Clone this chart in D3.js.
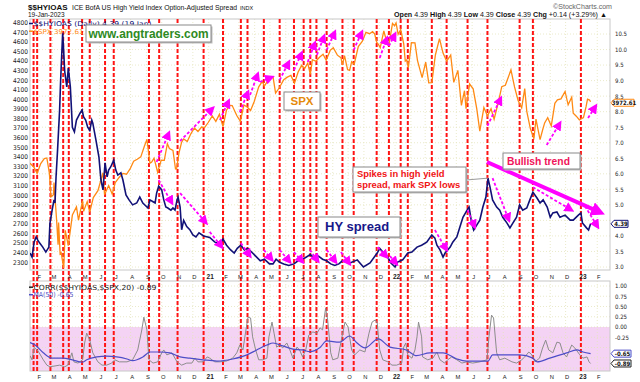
<!DOCTYPE html>
<html><head><meta charset="utf-8">
<script src="https://cdn.jsdelivr.net/npm/d3@7"></script>
<style>body{margin:0;background:#fff}svg{display:block}</style>
</head><body><svg id="c" width="640" height="382"></svg>
<script>
// ---------------- DATA ----------------
const spx = [
["2020-01-17",3330],["2020-01-24",3295],["2020-01-31",3225],["2020-02-07",3328],["2020-02-14",3380],["2020-02-19",3386],["2020-02-24",3225],["2020-02-27",2979],["2020-03-03",3003],["2020-03-04",3130],["2020-03-09",2747],["2020-03-12",2481],["2020-03-13",2711],["2020-03-16",2386],["2020-03-18",2398],["2020-03-23",2237],["2020-03-26",2630],["2020-04-01",2471],["2020-04-09",2790],["2020-04-17",2875],["2020-04-21",2737],["2020-04-29",2940],["2020-05-01",2830],["2020-05-08",2930],["2020-05-13",2820],["2020-05-20",2972],["2020-05-29",3044],["2020-06-08",3232],["2020-06-11",3002],["2020-06-19",3098],["2020-06-26",3009],["2020-07-02",3130],["2020-07-10",3185],["2020-07-17",3225],["2020-07-24",3216],["2020-07-31",3271],["2020-08-07",3351],["2020-08-14",3373],["2020-08-21",3397],["2020-08-28",3508],["2020-09-02",3580],["2020-09-08",3332],["2020-09-11",3341],["2020-09-16",3385],["2020-09-23",3237],["2020-09-30",3363],["2020-10-06",3361],["2020-10-12",3535],["2020-10-16",3484],["2020-10-23",3465],["2020-10-28",3271],["2020-10-30",3270],["2020-11-04",3443],["2020-11-09",3551],["2020-11-13",3585],["2020-11-20",3558],["2020-11-27",3638],["2020-12-04",3699],["2020-12-11",3663],["2020-12-18",3709],["2020-12-24",3703],["2020-12-31",3756],
["2021-01-08",3825],["2021-01-15",3768],["2021-01-22",3841],["2021-01-29",3714],["2021-02-05",3887],["2021-02-12",3934],["2021-02-16",3933],["2021-02-25",3829],["2021-03-04",3768],["2021-03-11",3939],["2021-03-18",3915],["2021-03-24",3881],["2021-03-31",3973],["2021-04-09",4129],["2021-04-16",4185],["2021-04-20",4135],["2021-04-29",4211],["2021-05-07",4233],["2021-05-12",4063],["2021-05-19",4116],["2021-05-28",4204],["2021-06-04",4230],["2021-06-11",4247],["2021-06-18",4166],["2021-06-25",4281],["2021-07-02",4352],["2021-07-08",4321],["2021-07-14",4375],["2021-07-19",4258],["2021-07-23",4412],["2021-07-30",4395],["2021-08-06",4437],["2021-08-13",4468],["2021-08-19",4406],["2021-08-27",4509],["2021-09-02",4537],["2021-09-10",4459],["2021-09-17",4433],["2021-09-20",4358],["2021-09-24",4455],["2021-09-30",4308],["2021-10-04",4300],["2021-10-08",4391],["2021-10-13",4364],["2021-10-21",4549],["2021-10-29",4605],["2021-11-05",4697],["2021-11-12",4683],["2021-11-18",4704],["2021-11-22",4682],["2021-11-26",4595],["2021-11-30",4567],["2021-12-03",4538],["2021-12-10",4712],["2021-12-14",4634],["2021-12-20",4568],["2021-12-27",4791],["2021-12-31",4766],
["2022-01-03",4796],["2022-01-07",4677],["2022-01-12",4726],["2022-01-18",4577],["2022-01-21",4398],["2022-01-24",4410],["2022-01-27",4326],["2022-02-02",4589],["2022-02-09",4587],["2022-02-14",4401],["2022-02-23",4225],["2022-03-02",4387],["2022-03-08",4170],["2022-03-14",4173],["2022-03-21",4461],["2022-03-29",4632],["2022-04-05",4481],["2022-04-12",4397],["2022-04-20",4459],["2022-04-26",4175],["2022-05-04",4300],["2022-05-11",3935],["2022-05-17",4088],["2022-05-20",3901],["2022-05-27",4158],["2022-06-03",4108],["2022-06-10",3901],["2022-06-16",3666],["2022-06-24",3912],["2022-07-01",3825],["2022-07-08",3899],["2022-07-14",3790],["2022-07-22",3962],["2022-07-29",4130],["2022-08-05",4145],["2022-08-16",4305],["2022-08-23",4128],["2022-08-30",3986],["2022-09-06",3909],["2022-09-12",4110],["2022-09-16",3873],["2022-09-23",3693],["2022-09-30",3586],["2022-10-04",3791],["2022-10-12",3577],["2022-10-17",3678],["2022-10-21",3752],["2022-10-27",3807],["2022-11-03",3720],["2022-11-10",3956],["2022-11-15",3992],["2022-11-22",4003],["2022-11-30",4080],["2022-12-06",3941],["2022-12-13",4020],["2022-12-16",3852],["2022-12-22",3822],["2022-12-28",3783],
["2023-01-05",3808],["2023-01-10",3919],["2023-01-13",3999],["2023-01-17",3990],["2023-01-19",3973]
];
const hy = [
["2020-01-17",3.45],["2020-01-21",3.32],["2020-01-25",3.8],["2020-01-29",3.97],["2020-02-01",3.87],["2020-02-05",3.77],["2020-02-11",3.64],["2020-02-17",3.48],["2020-02-23",3.64],["2020-02-25",4.4],["2020-02-29",4.8],["2020-03-04",5.16],["2020-03-06",5.06],["2020-03-08",5.9],["2020-03-11",6.77],["2020-03-15",8.05],["2020-03-17",9.0],["2020-03-21",10.55],["2020-03-25",9.3],["2020-03-29",8.8],["2020-04-01",9.4],["2020-04-05",8.8],["2020-04-09",7.5],["2020-04-13",7.35],["2020-04-17",7.73],["2020-04-24",7.95],["2020-04-28",8.05],["2020-05-01",7.83],["2020-05-05",7.73],["2020-05-09",7.5],["2020-05-13",7.4],["2020-05-17",7.73],["2020-05-19",7.63],["2020-05-25",7.1],["2020-05-31",6.54],["2020-06-04",5.8],["2020-06-08",5.48],["2020-06-12",6.35],["2020-06-16",5.9],["2020-06-19",6.12],["2020-06-23",6.22],["2020-06-29",6.44],["2020-07-03",6.12],["2020-07-07",5.96],["2020-07-13",6.03],["2020-07-17",5.8],["2020-07-23",5.32],["2020-07-29",5.16],["2020-08-05",5.0],["2020-08-13",5.06],["2020-08-19",5.25],["2020-08-25",5.06],["2020-09-02",4.93],["2020-09-04",4.9],["2020-09-08",5.16],["2020-09-14",5.1],["2020-09-18",5.06],["2020-09-21",5.38],["2020-09-25",5.6],["2020-10-01",5.48],["2020-10-05",5.16],["2020-10-09",4.93],["2020-10-13",4.9],["2020-10-19",4.83],["2020-10-23",4.9],["2020-10-27",4.83],["2020-10-31",5.16],["2020-11-02",5.25],["2020-11-06",4.93],["2020-11-09",4.2],["2020-11-13",4.5],["2020-11-19",4.3],["2020-11-25",4.2],["2020-12-01",4.03],["2020-12-07",3.97],["2020-12-13",4.1],["2020-12-22",4.0],
["2021-01-03",3.95],["2021-01-13",3.8],["2021-01-23",3.75],["2021-01-29",3.9],["2021-02-05",3.7],["2021-02-13",3.55],["2021-02-20",3.45],["2021-02-26",3.6],["2021-03-05",3.7],["2021-03-12",3.55],["2021-03-18",3.6],["2021-03-25",3.5],["2021-04-03",3.35],["2021-04-12",3.2],["2021-04-20",3.25],["2021-04-30",3.1],["2021-05-07",3.1],["2021-05-13",3.25],["2021-05-20",3.15],["2021-05-28",3.1],["2021-06-07",3.05],["2021-06-17",3.1],["2021-06-25",3.2],["2021-07-02",3.25],["2021-07-09",3.3],["2021-07-19",3.4],["2021-07-26",3.3],["2021-08-04",3.35],["2021-08-12",3.25],["2021-08-20",3.2],["2021-08-28",3.1],["2021-09-05",3.05],["2021-09-13",3.1],["2021-09-20",3.2],["2021-09-28",3.15],["2021-10-05",3.13],["2021-10-19",3.23],["2021-10-31",3.0],["2021-11-13",3.13],["2021-11-27",3.45],["2021-12-02",3.6],["2021-12-08",3.48],["2021-12-15",3.39],["2021-12-24",3.13],
["2022-01-01",3.0],["2022-01-06",3.16],["2022-01-16",3.23],["2022-01-26",3.45],["2022-02-03",3.48],["2022-02-13",3.64],["2022-02-22",3.7],["2022-03-04",3.8],["2022-03-14",4.03],["2022-03-20",3.93],["2022-03-24",3.7],["2022-03-30",3.55],["2022-04-05",3.32],["2022-04-09",3.45],["2022-04-19",3.64],["2022-04-24",3.8],["2022-05-02",3.97],["2022-05-08",4.29],["2022-05-14",4.6],["2022-05-22",4.83],["2022-05-26",4.93],["2022-05-31",4.42],["2022-06-04",4.19],["2022-06-10",4.35],["2022-06-16",4.51],["2022-06-22",4.93],["2022-06-28",5.25],["2022-07-02",5.86],["2022-07-06",5.57],["2022-07-11",5.16],["2022-07-19",4.93],["2022-07-25",4.83],["2022-07-31",4.6],["2022-08-08",4.42],["2022-08-14",4.26],["2022-08-20",4.42],["2022-08-27",4.6],["2022-09-02",5.0],["2022-09-08",4.83],["2022-09-16",4.9],["2022-09-22",5.16],["2022-09-28",5.41],["2022-10-06",5.22],["2022-10-12",5.06],["2022-10-18",5.16],["2022-10-26",4.93],["2022-11-01",4.6],["2022-11-06",4.74],["2022-11-14",4.77],["2022-11-20",4.6],["2022-11-30",4.67],["2022-12-10",4.51],["2022-12-16",4.51],["2022-12-26",4.67],["2022-12-31",4.74],
["2023-01-03",4.42],["2023-01-11",4.26],["2023-01-15",4.19],["2023-01-19",4.39]
];
const corr = [
["2020-01-17",-0.7],["2020-01-21",-0.8],["2020-01-25",-0.5],["2020-01-31",-0.56],["2020-02-04",-0.63],["2020-02-12",-0.8],["2020-02-19",-0.93],["2020-02-25",-0.97],["2020-03-06",-0.95],["2020-03-15",-0.93],["2020-03-25",-0.97],["2020-03-31",-0.93],["2020-04-08",-0.63],["2020-04-12",-0.85],["2020-04-20",-0.88],["2020-04-29",-0.8],["2020-05-03",-0.39],["2020-05-07",-0.15],["2020-05-13",-0.32],["2020-05-19",-0.63],["2020-05-29",-0.85],["2020-06-06",-0.93],["2020-06-15",-0.93],["2020-06-25",-0.88],["2020-07-01",-0.8],["2020-07-10",-0.85],["2020-07-25",-0.85],["2020-08-05",-0.8],["2020-08-15",-0.56],["2020-08-23",-0.07],["2020-08-27",0.24],["2020-09-02",-0.07],["2020-09-06",-0.8],["2020-09-14",-0.88],["2020-09-23",-0.85],["2020-10-01",-0.63],["2020-10-05",-0.56],["2020-10-11",-0.68],["2020-10-21",-0.63],["2020-10-31",-0.85],["2020-11-09",-0.93],["2020-11-19",-0.88],["2020-11-29",-0.88],["2020-12-05",-0.76],["2020-12-11",-0.85],["2020-12-21",-0.85],["2020-12-29",-0.73],
["2021-01-03",-0.76],["2021-01-13",-0.85],["2021-01-23",-0.85],["2021-02-05",-0.83],["2021-02-17",-0.76],["2021-02-25",-0.63],["2021-03-03",-0.44],["2021-03-09",-0.56],["2021-03-15",-0.07],["2021-03-19",0.24],["2021-03-24",0.22],["2021-03-28",-0.24],["2021-04-03",-0.56],["2021-04-09",-0.8],["2021-04-17",-0.8],["2021-04-25",-0.76],["2021-04-29",-0.24],["2021-05-05",0.12],["2021-05-09",-0.15],["2021-05-14",-0.49],["2021-05-20",-0.44],["2021-05-26",-0.51],["2021-06-03",-0.39],["2021-06-09",-0.56],["2021-06-15",-0.76],["2021-06-23",-0.49],["2021-06-28",-0.56],["2021-07-04",-0.73],["2021-07-10",-0.56],["2021-07-16",-0.2],["2021-07-24",-0.12],["2021-08-01",-0.15],["2021-08-05",-0.07],["2021-08-07",-0.02],["2021-08-12",-0.07],["2021-08-18",0.46],["2021-08-22",0.17],["2021-08-28",-0.63],["2021-09-01",-0.8],["2021-09-11",-0.76],["2021-09-19",-0.24],["2021-09-25",0.12],["2021-10-01",0.0],["2021-10-08",-0.56],["2021-10-14",-0.68],["2021-10-24",-0.56],["2021-11-03",-0.61],["2021-11-11",-0.15],["2021-11-17",0.12],["2021-11-23",0.17],["2021-11-27",0.1],["2021-12-02",-0.56],["2021-12-08",-0.8],["2021-12-18",-0.85],["2021-12-26",-0.93],
["2022-01-04",-0.93],["2022-01-14",-0.88],["2022-01-18",-0.49],["2022-01-22",-0.39],["2022-01-26",-0.68],["2022-02-03",-0.76],["2022-02-09",-0.56],["2022-02-13",-0.24],["2022-02-16",0.12],["2022-02-22",-0.24],["2022-02-24",-0.73],["2022-03-06",-0.8],["2022-03-16",-0.76],["2022-03-24",-0.61],["2022-03-30",-0.8],["2022-04-08",-0.88],["2022-04-14",-0.8],["2022-04-22",-0.73],["2022-05-02",-0.8],["2022-05-12",-0.88],["2022-05-21",-0.85],["2022-06-02",-0.88],["2022-06-16",-0.85],["2022-06-30",-0.8],["2022-07-04",-0.24],["2022-07-09",0.29],["2022-07-13",0.22],["2022-07-19",-0.63],["2022-07-25",-0.8],["2022-08-04",-0.76],["2022-08-18",-0.85],["2022-08-27",-0.88],["2022-09-06",-0.8],["2022-09-12",-0.73],["2022-09-20",-0.61],["2022-09-26",-0.68],["2022-10-02",-0.85],["2022-10-11",-0.76],["2022-10-17",-0.51],["2022-10-23",-0.32],["2022-10-29",-0.56],["2022-11-06",-0.63],["2022-11-14",-0.37],["2022-11-20",-0.39],["2022-11-26",-0.63],["2022-12-03",-0.73],["2022-12-13",-0.44],["2022-12-19",-0.51],["2022-12-29",-0.68],
["2023-01-04",-0.76],["2023-01-12",-0.73],["2023-01-16",-0.85],["2023-01-19",-0.89]
];
const corrMA = [
["2020-01-17",-0.38],["2020-01-27",-0.44],["2020-02-12",-0.63],["2020-02-29",-0.76],["2020-03-21",-0.76],["2020-04-09",-0.8],["2020-04-28",-0.86],["2020-05-07",-0.8],["2020-05-27",-0.73],["2020-06-15",-0.71],["2020-07-05",-0.73],["2020-07-25",-0.78],["2020-08-05",-0.82],["2020-08-25",-0.73],["2020-09-08",-0.61],["2020-09-27",-0.61],["2020-10-17",-0.63],["2020-11-06",-0.73],["2020-11-25",-0.76],["2020-12-21",-0.8],
["2021-01-17",-0.83],["2021-02-17",-0.78],["2021-03-17",-0.68],["2021-04-05",-0.56],["2021-04-25",-0.44],["2021-05-07",-0.39],["2021-05-26",-0.46],["2021-06-15",-0.54],["2021-07-04",-0.56],["2021-07-18",-0.6],["2021-08-07",-0.5],["2021-08-20",-0.34],["2021-09-14",-0.37],["2021-10-04",-0.22],["2021-10-17",-0.37],["2021-11-03",-0.51],["2021-11-29",-0.29],["2021-12-22",-0.49],
["2022-01-23",-0.56],["2022-02-12",-0.7],["2022-03-10",-0.63],["2022-04-05",-0.63],["2022-05-02",-0.78],["2022-05-21",-0.83],["2022-06-16",-0.83],["2022-07-02",-0.83],["2022-07-11",-0.68],["2022-08-08",-0.68],["2022-09-02",-0.68],["2022-09-28",-0.76],["2022-10-06",-0.85],["2022-10-31",-0.76],["2022-12-03",-0.63],["2022-12-23",-0.56],["2023-01-04",-0.61],["2023-01-19",-0.65]
];
const redLines = ["2020-01-24","2020-01-31","2020-02-26","2020-03-22","2020-04-02","2020-04-28","2020-05-13","2020-06-12","2020-06-29","2020-09-06","2020-09-26","2020-11-01","2020-12-22","2021-01-29","2021-03-05","2021-03-18","2021-04-19","2021-05-20","2021-06-17","2021-07-06","2021-07-19","2021-07-31","2021-08-20","2021-09-20","2021-10-12","2021-11-26","2021-12-20","2022-01-12","2022-01-26","2022-03-14","2022-04-12","2022-05-23","2022-07-01","2022-09-02","2022-09-28","2022-12-31"];
// annotation arrows: [tailDate, tailValue, headDate, headValue]
const spxArrows = [
["2020-09-21",3344,"2020-10-15",3647],["2020-11-06",3563,"2021-01-09",3907],["2021-01-23",3782,"2021-02-09",3981],["2021-03-03",3866,"2021-03-19",4075],["2021-03-23",4043,"2021-04-07",4262],["2021-04-11",4179,"2021-05-05",4231],["2021-05-20",4200,"2021-06-07",4388],["2021-06-17",4304,"2021-07-02",4482],["2021-07-14",4388,"2021-07-28",4586],["2021-08-01",4461,"2021-08-15",4659],["2021-08-20",4513,"2021-09-05",4701],["2021-10-12",4513,"2021-10-28",4701],["2021-12-02",4430,"2021-12-16",4638],["2021-12-20",4555,"2022-01-01",4680],["2022-07-01",3720,"2022-07-27",4010],["2022-10-25",3521,"2022-11-20",3751],["2023-01-14",3803,"2023-01-29",3928]
];
const hyArrows = [
["2020-09-25",5.8,"2020-10-21",5.06],["2020-11-06",5.38,"2020-12-27",4.42],["2021-01-03",4.13,"2021-01-27",3.64],["2021-03-05",3.77,"2021-03-23",3.35],["2021-04-19",3.55,"2021-05-05",3.23],["2021-05-20",3.55,"2021-06-09",3.16],["2021-06-17",3.48,"2021-07-04",3.16],["2021-07-18",3.55,"2021-08-03",3.19],["2021-08-20",3.55,"2021-09-07",3.16],["2021-09-17",3.48,"2021-10-04",3.10],["2021-11-28",3.64,"2021-12-16",3.32],["2021-12-22",3.35,"2022-01-04",3.10],["2022-03-20",4.19,"2022-04-12",3.55],["2022-05-23",4.83,"2022-06-06",4.29],["2022-07-11",5.86,"2022-08-12",4.51],["2022-09-28",5.57,"2022-12-13",4.83],["2023-01-08",4.96,"2023-02-02",4.29]
];
const trendArrow = ["2022-06-30",6.38,"2023-02-01",4.80];
const spikePoint = ["2022-07-02",5.86];
const spxTicks = d3.range(2300, 4801, 100);
const hyTicks = d3.range(3.0, 10.51, 0.5);
const corrTicks = [1,0.75,0.5,0.25,0,-0.25,-0.5,-0.75,-1];
const lastSpx = "3972.61", lastHy = "4.39", lastCorr = "-0.89", lastMA = "-0.65";

// ---------------- LAYOUT ----------------
const parse = d3.timeParse("%Y-%m-%d");
const svg = d3.select("#c");
const L = 30, R = 610, T = 19, B = 270, LT = 281, LB = 371;
const NARROW = '"Liberation Sans Narrow","DejaVu Sans Condensed",sans-serif';
const SANS = '"Liberation Sans",Arial,sans-serif';
const VER = '"DejaVu Sans",Verdana,sans-serif';
const x = d3.scaleTime().domain([parse("2020-01-17"), parse("2023-02-26")]).range([L, R]);
const ySpx = d3.scaleLinear().domain([2300, 4800]).range([262, 22.5]);
const yHy = d3.scaleLinear().domain([3, 10.5]).range([267, 34]);
const yC = d3.scaleLinear().domain([-1, 1]).range([368, 286]);
const MAG = "#ff00ff";

svg.append("rect").attr("width", 640).attr("height", 382).attr("fill", "#fff");
const defs = svg.append("defs");
defs.append("clipPath").attr("id", "cm").append("rect").attr("x", L).attr("y", T).attr("width", R - L).attr("height", B - T);
defs.append("clipPath").attr("id", "cl").append("rect").attr("x", L).attr("y", LT).attr("width", R - L).attr("height", LB - LT);
defs.append("marker").attr("id", "ah").attr("viewBox", "0 0 10 10").attr("refX", 7).attr("refY", 5)
  .attr("markerWidth", 10).attr("markerHeight", 10).attr("markerUnits", "userSpaceOnUse").attr("orient", "auto")
  .append("path").attr("d", "M0,0L10,5L0,10z").attr("fill", MAG);
defs.append("marker").attr("id", "ahb").attr("viewBox", "0 0 10 10").attr("refX", 4).attr("refY", 5)
  .attr("markerWidth", 14).attr("markerHeight", 14).attr("markerUnits", "userSpaceOnUse").attr("orient", "auto")
  .append("path").attr("d", "M0,0L10,5L0,10z").attr("fill", MAG);

// pink band
svg.append("rect").attr("x", L).attr("y", yC(0)).attr("width", R - L).attr("height", LB - yC(0)).attr("fill", "#f4d3f4");

// grids
const months = d3.timeMonth.range(parse("2020-02-01"), parse("2023-02-02"));
const grid = svg.append("g").attr("stroke", "#e4e4bc").attr("stroke-width", 0.8).attr("stroke-dasharray", "1,2");
months.forEach(m => {
  grid.append("line").attr("x1", x(m)).attr("x2", x(m)).attr("y1", T).attr("y2", B);
  grid.append("line").attr("x1", x(m)).attr("x2", x(m)).attr("y1", LT).attr("y2", LB);
});
hyTicks.forEach(v => grid.append("line").attr("x1", L).attr("x2", R).attr("y1", yHy(v)).attr("y2", yHy(v)));
corrTicks.forEach(v => grid.append("line").attr("x1", L).attr("x2", R).attr("y1", yC(v)).attr("y2", yC(v)));

// frames
svg.append("rect").attr("x", L).attr("y", T).attr("width", R - L).attr("height", B - T).attr("fill", "none").attr("stroke", "#c8c8c8");
svg.append("rect").attr("x", L).attr("y", LT).attr("width", R - L).attr("height", LB - LT).attr("fill", "none").attr("stroke", "#c8c8c8");

// red event lines
svg.append("g").selectAll("line").data(redLines).join("line")
  .attr("x1", d => x(parse(d))).attr("x2", d => x(parse(d))).attr("y1", T).attr("y2", LB)
  .attr("stroke", "#ff1414").attr("stroke-width", 2).attr("stroke-dasharray", "4,2");

// series
const gm = svg.append("g").attr("clip-path", "url(#cm)");
gm.append("path").datum(spx).attr("fill", "none").attr("stroke", "#ff8a14").attr("stroke-width", 1.3)
  .attr("d", d3.line().x(d => x(parse(d[0]))).y(d => ySpx(d[1])));
gm.append("path").datum(hy).attr("fill", "none").attr("stroke", "#111177").attr("stroke-width", 1.6)
  .attr("d", d3.line().x(d => x(parse(d[0]))).y(d => yHy(d[1])));
const gl = svg.append("g").attr("clip-path", "url(#cl)");
gl.append("path").datum(corr).attr("fill", "none").attr("stroke", "#8c8c8c").attr("stroke-width", 1)
  .attr("d", d3.line().x(d => x(parse(d[0]))).y(d => yC(d[1])));
gl.append("path").datum(corrMA).attr("fill", "none").attr("stroke", "#4d4dc8").attr("stroke-width", 1.2)
  .attr("d", d3.line().curve(d3.curveMonotoneX).x(d => x(parse(d[0]))).y(d => yC(d[1])));

// arrows
const ga = svg.append("g");
spxArrows.forEach(a => ga.append("line").attr("x1", x(parse(a[0]))).attr("y1", ySpx(a[1])).attr("x2", x(parse(a[2]))).attr("y2", ySpx(a[3]))
  .attr("stroke", MAG).attr("stroke-width", 1.8).attr("stroke-dasharray", "3,2").attr("marker-end", "url(#ah)"));
hyArrows.forEach(a => ga.append("line").attr("x1", x(parse(a[0]))).attr("y1", yHy(a[1])).attr("x2", x(parse(a[2]))).attr("y2", yHy(a[3]))
  .attr("stroke", MAG).attr("stroke-width", 1.8).attr("stroke-dasharray", "3,2").attr("marker-end", "url(#ah)"));
ga.append("line").attr("x1", x(parse(trendArrow[0]))).attr("y1", yHy(trendArrow[1])).attr("x2", x(parse(trendArrow[2]))).attr("y2", yHy(trendArrow[3]))
  .attr("stroke", MAG).attr("stroke-width", 4).attr("marker-end", "url(#ahb)");

// axes (labels hidden under the value tags are omitted, as in the reference)
function styleAxis(g, fam, size) {
  g.select(".domain").remove();
  g.selectAll("text").attr("font-family", fam).attr("font-size", size).attr("fill", "#222");
}
svg.append("g").attr("transform", `translate(${L - 2},0)`)
  .call(d3.axisLeft(ySpx).tickValues(spxTicks).tickSize(0).tickPadding(0).tickFormat(d3.format("d")))
  .call(g => styleAxis(g, NARROW, 6.5));
svg.append("g").attr("transform", `translate(${R + 5},0)`)
  .call(d3.axisRight(yHy).tickValues(hyTicks.filter(v => Math.abs(yHy(v) - yHy(+lastHy)) > 7)).tickSize(0).tickPadding(0).tickFormat(d => d.toFixed(1)))
  .call(g => styleAxis(g, NARROW, 6));
svg.append("g").attr("transform", `translate(${R + 5},0)`)
  .call(d3.axisRight(yC).tickValues(corrTicks.filter(v => Math.abs(yC(v) - yC(+lastMA)) > 7 && Math.abs(yC(v) - yC(+lastCorr)) > 7)).tickSize(0).tickPadding(0).tickFormat(d => d.toFixed(2)))
  .call(g => styleAxis(g, NARROW, 6));
const mfmt = d => d.getMonth() === 0 ? d3.timeFormat("%y")(d) : d3.timeFormat("%b")(d).charAt(0);
[277, 377].forEach(yy => {
  svg.append("g").attr("transform", `translate(1,${yy})`)
    .call(d3.axisBottom(x).tickValues(months).tickSize(0).tickPadding(0).tickFormat(mfmt))
    .call(g => { styleAxis(g, SANS, 5.8); g.selectAll("text").attr("y", 0).attr("dy", "0.35em")
      .attr("font-weight", d => d.getMonth() === 0 ? "bold" : "normal").attr("font-size", d => d.getMonth() === 0 ? 6.5 : 5.8); });
});

// header
svg.append("text").attr("x", 28).attr("y", 9.5).attr("font-family", SANS).attr("font-size", 8).attr("font-weight", "bold").attr("fill", "#111").text("$$HYIOAS");
svg.append("text").attr("x", 72).attr("y", 9.5).attr("font-family", SANS).attr("font-size", 6.4).attr("fill", "#111").attr("textLength", 165).attr("lengthAdjust", "spacingAndGlyphs").text("ICE BofA US High Yield Index Option-Adjusted Spread");
svg.append("text").attr("x", 240).attr("y", 9.5).attr("font-family", SANS).attr("font-size", 5.5).attr("fill", "#111").text("INDX");
svg.append("text").attr("x", 28).attr("y", 17).attr("font-family", SANS).attr("font-size", 6.5).attr("fill", "#111").text("19-Jan-2023");
svg.append("text").attr("x", 553).attr("y", 9).attr("font-family", SANS).attr("font-size", 6.8).attr("fill", "#666").attr("textLength", 59).attr("lengthAdjust", "spacingAndGlyphs").text("©StockCharts.com");
const ohlc = svg.append("text").attr("x", 394).attr("y", 17).attr("font-family", SANS).attr("font-size", 6.8).attr("fill", "#111").attr("textLength", 213).attr("lengthAdjust", "spacingAndGlyphs");
[["Open", 1], [" 4.39 ", 0], ["High", 1], [" 4.39 ", 0], ["Low", 1], [" 4.39 ", 0], ["Close", 1], [" 4.39 ", 0], ["Chg", 1], [" +0.14 (+3.29%) ▲", 0]]
  .forEach(p => ohlc.append("tspan").attr("font-weight", p[1] ? "bold" : "normal").text(p[0]));

// legends
function legend(yy, col, txt, len, fs) {
  svg.append("line").attr("x1", 29).attr("x2", 33).attr("y1", yy - 2.3).attr("y2", yy - 2.3).attr("stroke", col).attr("stroke-width", 1.5);
  svg.append("text").attr("x", 33.5).attr("y", yy).attr("font-family", VER).attr("font-size", fs).attr("fill", col)
    .attr("textLength", len).attr("lengthAdjust", "spacingAndGlyphs").text(txt);
}
legend(25.8, "#111177", "$$HYIOAS (Daily) 4.39 (19 Jan)", 118, 6.6);
legend(33.5, "#ff8a14", "$SPX " + lastSpx, 50, 6.6);
legend(289.5, "#222", "CORR($$HYIOAS,$SPX,20) " + lastCorr, 123, 7);
legend(297, "#4d4dc8", "MA(50) " + lastMA, 40, 7);

// value tags on right axis
function tag(yy, txt, col, w) {
  const x0 = R + 1, h = 3.5;
  svg.append("path").attr("d", `M${x0},${yy} L${x0 + 3},${yy - h} L${x0 + w},${yy - h} L${x0 + w},${yy + h} L${x0 + 3},${yy + h} Z`)
    .attr("fill", "#fff").attr("stroke", col).attr("stroke-width", 1);
  svg.append("text").attr("x", x0 + 3 + (w - 3) / 2).attr("y", yy).attr("dy", "0.35em").attr("text-anchor", "middle")
    .attr("font-family", NARROW).attr("font-size", 6).attr("font-weight", "bold").attr("fill", "#111").text(txt);
}
tag(ySpx(+lastSpx) + 1, lastSpx, "#ff8a14", 23);
tag(yHy(+lastHy), lastHy, "#111177", 17);
tag(yC(+lastMA), lastMA, "#4d4dc8", 20);
tag(yC(+lastCorr), lastCorr, "#222", 20);

// text boxes
function tbox(x0, y0, w, h) {
  svg.append("rect").attr("x", x0 + 1.5).attr("y", y0 + 1.5).attr("width", w).attr("height", h).attr("fill", "#bdbdbd");
  svg.append("rect").attr("x", x0).attr("y", y0).attr("width", w).attr("height", h).attr("fill", "#fff").attr("stroke", "#8a8a8a");
}
svg.append("line").attr("x1", 466).attr("y1", 180).attr("x2", x(parse(spikePoint[0]))).attr("y2", yHy(spikePoint[1])).attr("stroke", "#9a9a9a").attr("stroke-width", 1);
tbox(86, 25, 125, 17);
svg.append("text").attr("x", 148.5).attr("y", 38.3).attr("text-anchor", "middle").attr("font-family", SANS).attr("font-size", 12.2).attr("font-weight", "bold")
  .attr("fill", "#2e8a1e").attr("textLength", 120).attr("lengthAdjust", "spacingAndGlyphs").text("www.angtraders.com");
tbox(284, 92, 36, 18);
svg.append("text").attr("x", 302).attr("y", 105).attr("text-anchor", "middle").attr("font-family", SANS).attr("font-size", 11.5).attr("font-weight", "bold").attr("fill", "#e58a0a").text("SPX");
tbox(318, 217, 82, 20);
svg.append("text").attr("x", 325).attr("y", 231).attr("font-family", SANS).attr("font-size", 13).attr("font-weight", "bold").attr("fill", "#17178a").text("HY spread");
tbox(353, 167, 113, 25);
svg.append("text").attr("x", 357).attr("y", 177).attr("font-family", SANS).attr("font-size", 9.4).attr("font-weight", "bold").attr("fill", "#f01414").text("Spikes in high yield");
svg.append("text").attr("x", 357).attr("y", 188).attr("font-family", SANS).attr("font-size", 9.4).attr("font-weight", "bold").attr("fill", "#f01414").text("spread, mark SPX lows");
tbox(503, 153, 77, 16);
svg.append("text").attr("x", 507).attr("y", 165).attr("font-family", SANS).attr("font-size", 10.3).attr("font-weight", "bold").attr("fill", "#f0145a").text("Bullish trend");
</script></body></html>
